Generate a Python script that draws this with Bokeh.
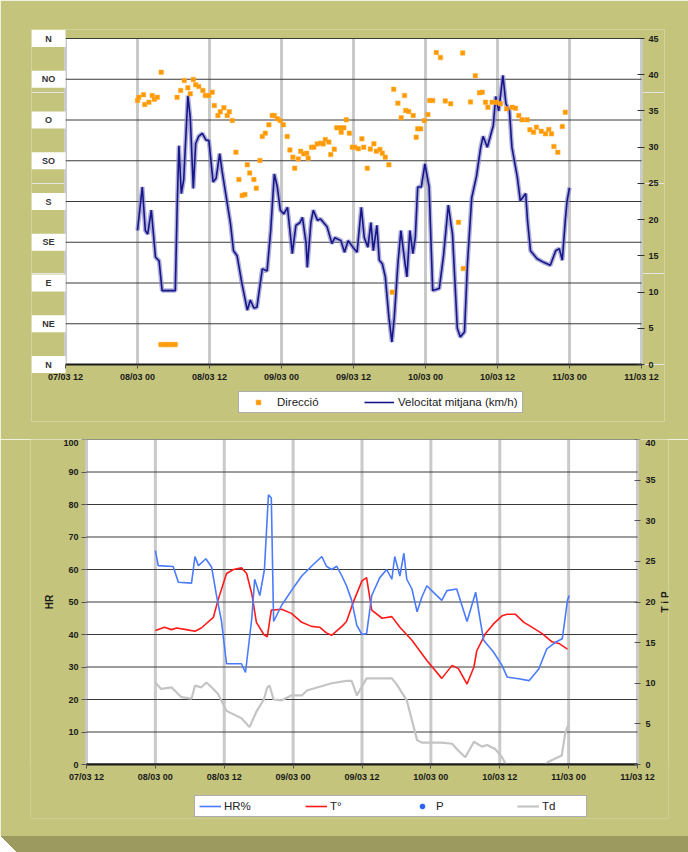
import math
from bokeh.plotting import figure
from bokeh.models import Range1d, LinearAxis, FixedTicker, Legend, LegendItem, Div
from bokeh.core.properties import value
from bokeh.embed import file_html
from bokeh.resources import INLINE

# ---------------- data ----------------
x_tick_hours = [-12, 0, 12, 24, 36, 48, 60, 72, 84]
x_tick_labels = ["07/03 12", "08/03 00", "08/03 12", "09/03 00", "09/03 12",
                 "10/03 00", "10/03 12", "11/03 00", "11/03 12"]
dir_tick_values = [0, 45, 90, 135, 180, 225, 270, 315, 360]
dir_tick_labels = ["N", "NE", "E", "SE", "S", "SO", "O", "NO", "N"]
vel_ticks = [0, 5, 10, 15, 20, 25, 30, 35, 40, 45]
hr_ticks = [0, 10, 20, 30, 40, 50, 60, 70, 80, 90, 100]
tp_ticks = [0, 5, 10, 15, 20, 25, 30, 35, 40]

# wind speed (hours since 08/03 00, km/h)
vel_h = [0, 0.8, 1.3, 1.7, 2.3, 3, 3.6, 4.1, 6.3, 6.6, 6.9, 7.3, 7.7, 8.4, 8.8, 9.3, 9.7, 10.2,
         10.8, 11.4, 11.9, 12.6, 13.1, 13.7, 14.1, 14.7, 15.5, 16, 16.6, 17.4, 18.3, 18.8, 19.4,
         19.9, 20.8, 21.6, 22.2, 22.8, 23.3, 23.8, 24.4, 25, 25.8, 26.4, 27.1, 27.5, 28.1, 28.3,
         28.9, 29.3, 30, 30.5, 31.6, 32.4, 32.9, 33.9, 34.5, 35.1, 35.9, 36.6, 37.3, 37.8, 38.4,
         38.9, 39.3, 39.9, 40.3, 40.8, 41.3, 41.9, 42.4, 42.8, 43.4, 43.9, 44.6, 44.9, 45.4, 45.9,
         46.3, 46.7, 47.3, 47.9, 48.6, 49.2, 50.3, 51, 51.8, 52.5, 53.3, 53.8, 54.5, 55, 55.7,
         56.5, 57.2, 57.6, 58.3, 59.3, 59.7, 60.2, 60.9, 61.4, 62, 62.4, 63.3, 63.8, 64.7, 65,
         65.5, 66.6, 67.7, 68.8, 69.7, 70.3, 70.8, 71.3, 71.6, 72]
vel_kmh = [18.5, 24.5, 18.5, 18, 21.3, 14.8, 14.3, 10.2, 10.2, 21.3, 30.2, 23.6, 25.5, 37.1, 34,
           24.3, 30.5, 31.5, 31.9, 31, 30.9, 25.2, 25.7, 29.1, 26.7, 23.6, 19.4, 15.7, 15, 11.2,
           7.5, 8.9, 7.8, 7.9, 13.2, 12.9, 18.5, 26.3, 24.5, 21.3, 20.8, 21.7, 15.3, 19.2, 19.6,
           20.3, 16.7, 13.4, 19.6, 21.3, 19.9, 20.1, 19, 16.7, 17.5, 17.1, 15.5, 17.1, 16.2, 15.5,
           21.7, 17.5, 16.2, 19.6, 15.7, 19.2, 14.4, 13.9, 12.1, 6.5, 3.1, 6.5, 13.9, 18.5, 13.9,
           12.1, 18.5, 15.3, 17.5, 24.5, 24.5, 27.7, 24.5, 10.2, 10.5, 15, 22, 18, 5, 3.8, 4.5,
           14, 23, 26, 30, 31.5, 30, 33, 37, 35, 39.9, 36, 35, 30, 25.9, 22.6, 23.6, 19.9, 15.7,
           14.6, 14.1, 13.7, 15.7, 16, 14.4, 19.9, 22.6, 24.4]

# wind direction (hours, degrees)
dir_h = [0, 0.2, 1.0, 1.2, 1.9, 2.45, 2.8, 3.3, 3.95, 3.9, 4.3, 4.7, 5.1, 5.5, 5.9, 6.3,
         6.6, 7.2, 7.8, 8.4, 8.8, 9.3, 9.7, 10.2, 10.9, 11.3, 11.9, 12.45, 12.8, 13.4, 13.8,
         14.4, 14.95, 15.3, 15.8, 16.4, 16.9, 17.45, 17.9, 18.3, 18.7, 19.4, 19.8, 20.4, 20.8,
         21.3, 21.9, 22.45, 22.8, 23.3, 23.8, 24.3, 24.95, 25.4, 25.9, 26.2, 26.8, 27.2, 27.7,
         28.2, 28.45, 29, 29.4, 29.95, 30.5, 30.95, 31.3, 31.9, 32.2, 32.8, 33.2, 33.8, 33.95,
         34.4, 34.8, 35.3, 35.8, 36.2, 36.8, 37.4, 37.7, 38.3, 38.8, 39.4, 39.8, 40.4, 40.8,
         41.3, 41.9, 42.45, 42.7, 43.4, 43.95, 44.5, 44.7, 45.2, 45.95, 46.45, 46.7, 47.2, 47.8,
         48.4, 48.7, 49.2, 49.8, 50.5, 51.3, 52.2, 53.5, 54.2, 54.3, 55.5, 56.3, 57.0,
         57.45, 58, 58.4, 59.1, 59.8, 60.5, 61.5, 62.45, 63, 63.55, 64.1, 64.95, 65.4, 66, 66.5,
         67.3, 68, 68.55, 69, 69.4, 70.05, 70.8, 71.3]
dir_deg = [291.5, 295, 297.8, 287, 289.6, 297, 293, 295, 322.8, 22, 22, 22, 22, 22, 22, 22,
           295, 302.6, 313.6, 305.5, 298.9, 314.7, 308.9, 307, 302.6, 297, 297, 300.7, 286, 275,
           279, 283.5, 275, 279, 269.4, 234.4, 204.3, 186.6, 187.7, 220.5, 211.4, 204.3, 194.7,
           225.3, 251.8, 255.5, 264.7, 275, 275, 271.3, 269.4, 264.7, 251.8, 237, 229, 216.8, 227,
           235.5, 232.6, 233.3, 227.8, 240, 240, 243.6, 244.4, 243.6, 248.5, 245.6, 231.9, 237.8,
           261.4, 261.4, 256.6, 261.4, 270.2, 255.5, 240, 240, 238.2, 249.2, 240, 216.8, 237.9,
           243.7, 235.6, 237.5, 233.4, 229, 220.5, 79.9, 304, 288.6, 272.4, 297, 280.5, 279.4,
           275, 251, 260.2, 260.2, 269.4, 276, 291.5, 291.5, 344.5, 339, 291, 288, 157, 344,
           106, 290, 319, 300, 300.7, 289.6, 284, 289.6, 289.6, 287.9, 282.3, 284, 283, 275,
           270.2, 270.2, 259.2, 256.6, 262, 257.6, 254.7, 259.6, 254.7, 240.7, 234.4, 262.8,
           278.6]

# relative humidity (hours, %)
hr_h = [0, 0.5, 3.1, 4, 6.3, 6.9, 7.5, 8.8, 9.8, 10.6, 11.5, 12.4, 15, 15.7, 16.8, 17.3, 18.2,
        19, 19.7, 20.2, 20.6, 22, 23.7, 25.5, 27.2, 29, 29.8, 30.7, 31.6, 32.5, 33.3, 34.2,
        35.1, 36, 36.8, 37.7, 39.1, 40.3, 41.2, 41.7, 42.6, 43.3, 43.8, 44.7, 45.6, 46.4, 47.3,
        48.5, 49.9, 50.8, 52.5, 53.4, 54.3, 55.8, 56.7, 57.2, 58.9, 60.4, 61.3, 63.3, 65.1,
        66.8, 68.2, 69.7, 70.9, 71.4, 71.8, 72.1]
hr_pct = [65.8, 61.2, 60.9, 56.1, 55.8, 64, 61.2, 63.3, 60.7, 52.5, 44.3, 31, 31, 28.3, 45, 57,
          52, 60, 83, 82, 44, 49, 53.5, 58, 61, 64, 61, 60, 61, 58, 55, 50.5, 42.8, 40, 40.3, 52,
          57.5, 60, 57, 64, 58, 65, 57, 54, 47, 51.4, 55, 52.9, 50.5, 53.5, 54, 49, 44, 53, 43.3,
          38.2, 34.6, 30.5, 26.9, 26.4, 25.8, 29.4, 35.6, 37.6, 38.7, 45.3, 50.5, 52]

# temperature (hours, degC)
t_h = [0, 1.6, 2.8, 3.7, 5.4, 6.9, 8, 10.1, 10.9, 12.4, 13.6, 15, 15.9, 16.8, 17.6, 18.9, 19.5,
       20.2, 22, 23.7, 25.5, 27.2, 28.6, 29.8, 30.7, 32.5, 33.3, 34.6, 36, 36.8, 37.7, 39.5,
       41.2, 42.6, 44.7, 47.3, 49.9, 51.7, 52.8, 54.3, 55.5, 56, 57.5, 58.9, 60.4, 61.3, 62.7,
       64.2, 65.6, 67.4, 69.1, 70.3, 71.8]
t_c = [16.5, 16.9, 16.6, 16.8, 16.6, 16.4, 16.8, 18.1, 20.2, 23.5, 24, 24.2, 23.5, 21, 17.5, 16,
       15.7, 19, 19.1, 18.6, 17.5, 17, 16.9, 16.2, 15.9, 17, 17.6, 20.2, 22.6, 23, 19, 18, 18.2,
       16.9, 15.3, 12.8, 10.6, 12.2, 11.8, 9.9, 12, 14, 16.1, 17.3, 18.3, 18.5, 18.5, 17.5, 16.9,
       16.1, 15.1, 14.9, 14.2]

# dew point (hours, degC)
td_h = [0, 1, 2.8, 4.5, 6.3, 6.9, 8, 8.9, 9.8, 10.9, 12.4, 15, 16.4, 17.6, 18.9, 19.5, 19.9,
        20.6, 22, 23.7, 25.5, 26.4, 30.7, 33.3, 34.2, 35.1, 36.8, 41.2, 42.1, 43.8, 45.6, 46.4,
        49.9, 51.7, 52.8, 54, 55.5, 56.9, 57.8, 59.2, 60.4, 61.3, 63, 67.4, 68.4, 69.6, 70.8,
        71.4, 72]
td_c = [10.1, 9.3, 9.5, 8.3, 8.1, 9.7, 9.5, 10.1, 9.5, 8.7, 6.6, 5.7, 4.6, 6.5, 8, 9.5, 9.7, 8,
        7.9, 8.5, 8.5, 9.1, 10, 10.3, 10.3, 8.5, 10.6, 10.6, 9.8, 7.9, 3, 2.7, 2.7, 2.55, 1.7,
        0.9, 2.8, 2.2, 2.4, 1.9, 0.9, -0.3, -0.3, -0.5, 0.3, 0.7, 1.1, 3.8, 5]

# pressure series: in the legend, but no point falls inside the plotted range
p_h = [math.nan]
p_val = [math.nan]

# ---------------- style ----------------
OLIVE = "#C4C47C"
OLIVE_DARK = "#9C9A5E"
FONT = "Liberation Sans"
TICK_FS = "9px"
TXT = "#1a1a1a"
VBAND = "#cacaca"
HLINE = "#3a3a3a"


def style_axis(ax):
    ax.major_label_text_font = FONT
    ax.major_label_text_font_style = "bold"
    ax.major_label_text_font_size = TICK_FS
    ax.major_label_text_color = TXT
    ax.minor_tick_line_color = None
    ax.axis_line_color = None


def style_xaxis(p, y0):
    p.xgrid.visible = False
    p.xaxis.ticker = FixedTicker(ticks=x_tick_hours)
    p.xaxis.major_label_overrides = {h: s for h, s in zip(x_tick_hours, x_tick_labels)}
    p.xaxis.major_tick_line_color = "#555555"
    p.xaxis.fixed_location = y0
    p.xaxis.major_tick_in = 0
    p.xaxis.major_tick_out = 4
    p.xaxis.major_label_standoff = 3


def plot_area(p, y_ticks):
    """white plotting area with vertical bands and horizontal rules"""
    p.quad(left=[x_tick_hours[0]], right=[x_tick_hours[-1]],
           bottom=[y_ticks[0]], top=[y_ticks[-1]], fill_color="white", line_color=None)
    n_x = len(x_tick_hours)
    p.segment(x0=x_tick_hours, x1=x_tick_hours, y0=[y_ticks[0]] * n_x,
              y1=[y_ticks[-1]] * n_x, line_color=VBAND, line_width=3)
    n_y = len(y_ticks)
    p.segment(x0=[x_tick_hours[0]] * n_y, x1=[x_tick_hours[-1]] * n_y,
              y0=y_ticks, y1=y_ticks, line_color=[TXT] + [HLINE] * (n_y - 1),
              line_width=[2] + [1] * (n_y - 1))


def clip_below(p, y_lo, y0):
    """hide anything drawn below the plot's lower limit, then redraw its base rule"""
    p.quad(left=[p.x_range.start], right=[p.x_range.end], bottom=[y_lo], top=[y0],
           fill_color=OLIVE, line_color=None)
    p.segment(x0=[x_tick_hours[0]], x1=[x_tick_hours[-1]], y0=[y0], y1=[y0],
              line_color=TXT, line_width=2)


# ---------------- top chart ----------------
# page px: frame 31..664 x 29..421, plot area 65..641 x 38..364
PX_H = 6.0          # px per hour
PX_DEG = 326 / 360  # px per degree
LBL_W = 34          # width of the compass label column (px)
x_lo = x_tick_hours[0] - LBL_W / PX_H
x_hi = x_tick_hours[-1] + 23 / PX_H
y_lo = dir_tick_values[0] - 57 / PX_DEG
y_hi = dir_tick_values[-1] + 9 / PX_DEG
v_scale = vel_ticks[-1] / dir_tick_values[-1]

p1 = figure(width=688, height=439, x_range=Range1d(x_lo, x_hi),
            y_range=Range1d(y_lo, y_hi), y_axis_location=None,
            output_backend="svg", toolbar_location=None,
            min_border_left=31, min_border_right=24, min_border_top=29, min_border_bottom=18,
            background_fill_color=OLIVE, border_fill_color=OLIVE, outline_line_color=None)
p1.extra_y_ranges = {"vel": Range1d(y_lo * v_scale, y_hi * v_scale)}
rax = LinearAxis(y_range_name="vel", ticker=FixedTicker(ticks=vel_ticks),
                 fixed_location=x_tick_hours[-1])
p1.add_layout(rax, "right")
style_xaxis(p1, dir_tick_values[0])
for ax in p1.axis:
    style_axis(ax)
rax.major_tick_in = 4
rax.major_tick_out = 3
rax.major_tick_line_color = "#333333"
rax.major_label_standoff = 4

plot_area(p1, dir_tick_values)
n_d = len(dir_tick_values)
lbl_x = [x_tick_hours[0] - LBL_W / PX_H / 2] * n_d
p1.rect(x=lbl_x, y=dir_tick_values, width=LBL_W, height=17,
        width_units="screen", height_units="screen", fill_color="white", line_color=None)
p1.text(x=lbl_x, y=dir_tick_values, text=dir_tick_labels, text_align="center",
        text_baseline="middle", text_font=value(FONT), text_font_style="bold",
        text_font_size=TICK_FS, text_color="#333333")

r_vel_halo = p1.line(vel_h, vel_kmh, y_range_name="vel", line_color="#8c8cc8",
                     line_width=4.5, line_alpha=0.7)
r_vel = p1.line(vel_h, vel_kmh, y_range_name="vel", line_color="#16168a", line_width=1.6)
r_dir = p1.scatter(dir_h, dir_deg, marker="square", size=4.5, fill_color="#FF9900",
                   line_color="#FFB040", line_width=0.5)

leg1 = Legend(items=[LegendItem(label="Direcció", renderers=[r_dir]),
                     LegendItem(label="Velocitat mitjana (km/h)", renderers=[r_vel])],
              orientation="horizontal", location=(207, 8),
              padding=4, spacing=37, label_standoff=4, glyph_width=30, glyph_height=12,
              label_height=12, label_width=50,
              label_text_font=FONT, label_text_font_size="11.5px", label_text_color="#222222",
              background_fill_color="white", background_fill_alpha=1,
              border_line_color="#5a5a5a", border_line_width=1.5)
p1.add_layout(leg1)

# ---------------- bottom chart ----------------
# page px: frame 30..668 x 439..818, plot area 86..637 x 439..764
PX_H2 = 551 / 96
PX_HR = 325 / 100
hr_lo = hr_ticks[0] - 54 / PX_HR
tp_scale = tp_ticks[-1] / hr_ticks[-1]
x2_lo = x_tick_hours[0] - 56 / PX_H2
x2_hi = x_tick_hours[-1] + 31 / PX_H2

p2 = figure(width=688, height=397, x_range=Range1d(x2_lo, x2_hi),
            y_range=Range1d(hr_lo, hr_ticks[-1]),
            output_backend="svg", toolbar_location=None,
            min_border_left=30, min_border_right=20, min_border_top=0, min_border_bottom=18,
            background_fill_color=OLIVE, border_fill_color=OLIVE, outline_line_color=None)
p2.extra_y_ranges = {"tp": Range1d(hr_lo * tp_scale, tp_ticks[-1])}
tax = LinearAxis(y_range_name="tp", ticker=FixedTicker(ticks=tp_ticks),
                 fixed_location=x_tick_hours[-1])
p2.add_layout(tax, "right")
p2.ygrid.visible = False
p2.yaxis[0].ticker = FixedTicker(ticks=hr_ticks)
p2.yaxis[0].fixed_location = x_tick_hours[0]
style_xaxis(p2, hr_ticks[0])
for ax in p2.axis:
    style_axis(ax)
for ax in p2.yaxis:
    ax.major_tick_out = 5
    ax.major_tick_in = 0
    ax.major_tick_line_color = "#555555"
p2.yaxis[0].major_label_standoff = 3
tax.major_tick_in = 3
tax.major_tick_out = 3
tax.major_label_standoff = 5

plot_area(p2, hr_ticks)
mid_hr = (hr_ticks[0] + hr_ticks[-1]) / 2
p2.text(x=[x_tick_hours[0] - 37 / PX_H2], y=[mid_hr], text=["HR"], angle=math.pi / 2,
        text_align="center", text_baseline="middle", text_font=value(FONT),
        text_font_style="bold", text_font_size="10px", text_color=TXT)
p2.text(x=[x_tick_hours[-1] + 28 / PX_H2], y=[mid_hr], text=["T i P"], angle=math.pi / 2,
        text_align="center", text_baseline="middle", text_font=value(FONT),
        text_font_style="bold", text_font_size="10px", text_color=TXT)

r_td = p2.line(td_h, td_c, y_range_name="tp", line_color="#c4c4c4", line_width=2.2)
r_t = p2.line(t_h, t_c, y_range_name="tp", line_color="#FF1A1A", line_width=1.6)
r_hr = p2.line(hr_h, hr_pct, line_color="#4A7BFF", line_width=1.6)
r_p = p2.scatter(p_h, p_val, y_range_name="tp", marker="circle", size=7,
                 fill_color="#2E63F0", line_color="#2E63F0")
clip_below(p2, hr_lo, hr_ticks[0])

leg2 = Legend(items=[LegendItem(label="HR%", renderers=[r_hr]),
                     LegendItem(label="T°", renderers=[r_t]),
                     LegendItem(label="P", renderers=[r_p]),
                     LegendItem(label="Td", renderers=[r_td])],
              orientation="horizontal", location=(164, 1),
              padding=4, spacing=41, label_standoff=3, glyph_width=22, glyph_height=12,
              label_height=12, label_width=40,
              label_text_font=FONT, label_text_font_size="11.5px", label_text_color="#222222",
              background_fill_color="white", background_fill_alpha=1,
              border_line_color="#5a5a5a", border_line_width=1.5)
p2.add_layout(leg2)

# ---------------- base band ----------------
band = Div(text="", width=688, height=16, margin=0,
           styles={"background": "linear-gradient(to top right, #ffffff 50%, transparent 50%)"
                                 " left top / 16px 100% no-repeat, " + OLIVE_DARK})

open("out.html", "w").write(file_html([p1, p2, band], INLINE))
